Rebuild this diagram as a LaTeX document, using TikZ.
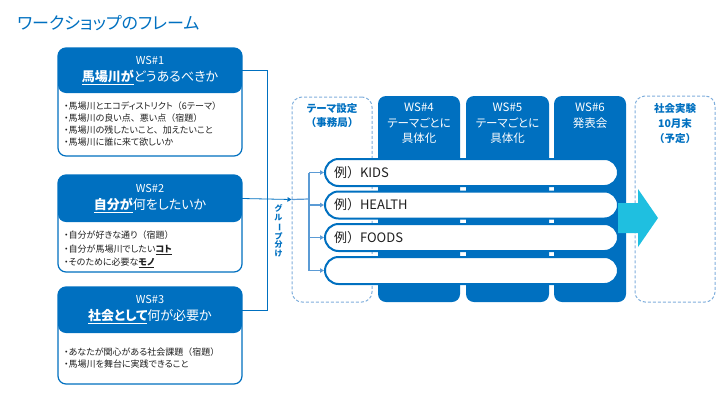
\documentclass[tikz,border=0pt]{standalone}
\usepackage{fontspec}
\setmainfont{Noto Sans CJK JP}[RawFeature=+palt]
\newfontfamily\fwfont{Noto Sans CJK JP}
\newcommand{\lpar}{{\fwfont （}}
\newcommand{\rpar}{{\fwfont ）}}
\newcommand{\tou}{{\fwfont 、}}
\usetikzlibrary{arrows.meta}
\definecolor{mainblue}{HTML}{0070C0}
\definecolor{lightblue}{HTML}{5B9BD5}
\definecolor{dashblue}{HTML}{7FAEDC}
\definecolor{cyanarrow}{HTML}{1FBFE0}
\definecolor{textgray}{HTML}{202020}
\begin{document}
\begin{tikzpicture}[x=1pt,y=-1pt,
  wsbox/.style={draw=mainblue, line width=1.2pt, fill=white, rounded corners=8pt,
    minimum width=184pt, inner sep=0pt},
  hdr/.style={minimum width=184pt, inner sep=0pt, text=white, align=center,
    font=\fontsize{13}{17}\selectfont},
  bullets/.style={anchor=north west, inner sep=0pt, align=left, text=textgray,
    font=\fontsize{9}{12}\selectfont},
  col/.style={fill=mainblue, rounded corners=8pt, minimum height=206pt, inner sep=0pt},
  coltext/.style={text=white, align=center, font=\fontsize{11.5}{15.5}\selectfont},
  dbox/.style={draw=dashblue, dash pattern=on 3pt off 2pt, line width=1pt,
    rounded corners=10pt, minimum width=80pt, inner sep=0pt},
  dtext/.style={text=mainblue, align=center, font=\bfseries\fontsize{10.5}{15}\selectfont},
  rowbox/.style={draw=mainblue, line width=2pt, fill=white, rounded corners=13.5pt,
    minimum width=293pt, minimum height=27pt, text width=275pt, inner xsep=9pt,
    align=left, text=textgray, font=\fontsize{13}{15}\selectfont},
  conn/.style={draw=mainblue, line width=0.8pt},
  branch/.style={draw=lightblue, line width=1.2pt},
  tip/.style={-{Triangle[width=4.5pt,length=4pt]}}
]
\useasboundingbox (0,0) rectangle (720,405);

% title
\node[anchor=west, inner sep=0pt, text=mainblue, font=\fontsize{17}{20}\selectfont] (title) at (17,23) {ワークショップのフレーム};

% left boxes
\node[wsbox, minimum height=108pt,
  path picture={\fill[mainblue] (path picture bounding box.north west) rectangle ([yshift=-45pt]path picture bounding box.north east);}]
  (b1) at (150,102) {};
\node[hdr, minimum height=45pt] (h1) at (150,70.5) {{\fontsize{11}{13}\selectfont WS\#1}\\\underline{\textbf{馬場川が}}どうあるべきか};
\node[bullets] (l1) at (64,101.5) {・馬場川とエコディストリクト\lpar 6テーマ\rpar\\・馬場川の良い点\tou 悪い点\lpar 宿題\rpar\\・馬場川の残したいこと\tou 加えたいこと\\・馬場川に誰に来て欲しいか};

\node[wsbox, minimum height=97pt,
  path picture={\fill[mainblue] (path picture bounding box.north west) rectangle ([yshift=-47pt]path picture bounding box.north east);}]
  (b2) at (150,223.5) {};
\node[hdr, minimum height=47pt] (h2) at (150,198.5) {{\fontsize{11}{13}\selectfont WS\#2}\\\underline{\textbf{自分が}}何をしたいか};
\node[bullets, font=\fontsize{9}{13.2}\selectfont] (l2) at (64,231) {・自分が好きな通り\lpar 宿題\rpar\\・自分が馬場川でしたい\underline{\textbf{コト}}\\・そのために必要な\underline{\textbf{モノ}}};

\node[wsbox, minimum height=97pt,
  path picture={\fill[mainblue] (path picture bounding box.north west) rectangle ([yshift=-46pt]path picture bounding box.north east);}]
  (b3) at (150,335.5) {};
\node[hdr, minimum height=46pt] (h3) at (150,310) {{\fontsize{11}{13}\selectfont WS\#3}\\\underline{\textbf{社会として}}何が必要か};
\node[bullets] (l3) at (64,347.5) {・あなたが関心がある社会課題\lpar 宿題\rpar\\・馬場川を舞台に実践できること};

% columns
\node[col, minimum width=82pt] (c4) at (419,199) {};
\node[col, minimum width=83pt] (c5) at (507.5,199) {};
\node[col, minimum width=72pt] (c6) at (590,199) {};
\node[coltext] (t4) at (419,123.5) {WS\#4\\テーマごとに\\具体化};
\node[coltext] (t5) at (507.5,123.5) {WS\#5\\テーマごとに\\具体化};
\node[coltext] (t6) at (590,115.5) {WS\#6\\発表会};

% dashed boxes
\node[dbox, minimum height=205pt] (ds) at (332,199.5) {};
\node[dtext, font=\bfseries\fontsize{10.5}{14}\selectfont] (dst) at (332,116) {テーマ設定\\\lpar 事務局\rpar};
\node[dbox, minimum height=206pt] (dr) at (675,199) {};
\node[dtext] (drt) at (675,123.5) {社会実験\\10月末\\\lpar 予定\rpar};

% rows
\node[rowbox] (r1) at (471.5,172.5) {例\rpar KIDS};
\node[rowbox] (r2) at (471.5,205) {例\rpar HEALTH};
\node[rowbox] (r3) at (471.5,237.5) {例\rpar FOODS};
\node[rowbox] (r4) at (471.5,270.5) {};

% big arrow
\fill[cyanarrow] (618,203) -- (638,203) -- (638,189) -- (658,218) -- (638,247) -- (638,233) -- (618,233) -- cycle;

% connectors
\coordinate (jn) at (267,199);
\coordinate (br) at (309,199);
\draw[conn] (h1.east) -| (jn);
\draw[conn] (h3.east) -| (jn);
\draw[conn, tip] (h2.east) -- (ds.west);
\draw[branch] (ds.west) -- (br);
\draw[branch] (br |- r1.west) -- (br |- r4.west);
\draw[branch, tip] (br |- r1.west) -- (r1.west);
\draw[branch, tip] (br |- r2.west) -- (r2.west);
\draw[branch, tip] (br |- r3.west) -- (r3.west);
\draw[branch, tip] (br |- r4.west) -- (r4.west);

% vertical label
\node[text=mainblue, align=center, inner sep=0pt, font=\bfseries\fontsize{8}{8.8}\selectfont] (grp) at (278.5,231)
  {グ\\ル\\\rotatebox[origin=c]{-90}{ー}\\プ\\分\\け};
\end{tikzpicture}
\end{document}
